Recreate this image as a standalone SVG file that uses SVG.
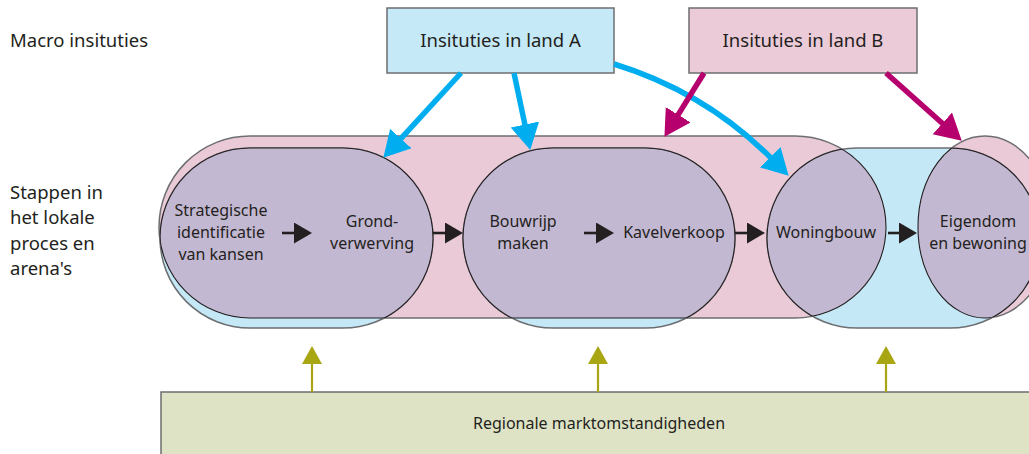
<svg xmlns="http://www.w3.org/2000/svg" width="1029" height="454" viewBox="0 0 1029 454">
<style>
  text { font-family: "Noto Sans", "Open Sans", sans-serif; fill: #231f20; }
  .lbl { font-size: 18.5px; }
  .step { font-size: 16px; text-anchor: middle; }
  .box { stroke: #6d6e71; stroke-width: 1.5; }
  .pink { fill: #ebcad8; }
  .blue { fill: #c5e8f7; }
  .outer { stroke: #6d6e71; stroke-width: 1.5; }
  .purple { fill: #c3b8d2; stroke: #231f20; stroke-width: 1.1; }
  .edge { fill: none; stroke: #231f20; stroke-width: 1.1; }
  .cyan { stroke: #00aeef; stroke-width: 5.5; fill: none; }
  .mag { stroke: #b5006d; stroke-width: 5.5; fill: none; }
  .blk { stroke: #231f20; stroke-width: 2.6; fill: none; }
  .olv { stroke: #a9a614; stroke-width: 2.2; fill: none; }
</style>
<defs>
  <marker id="hCyan" markerUnits="userSpaceOnUse" markerWidth="27" markerHeight="30" refX="1" refY="14.5" orient="auto"><path d="M0,0 L26,14.5 L0,29 z" fill="#00aeef"/></marker>
  <marker id="hMag" markerUnits="userSpaceOnUse" markerWidth="27" markerHeight="30" refX="1" refY="14.5" orient="auto"><path d="M0,0 L26,14.5 L0,29 z" fill="#b5006d"/></marker>
  <marker id="hBlk" markerUnits="userSpaceOnUse" markerWidth="19" markerHeight="21" refX="1" refY="10.5" orient="auto"><path d="M0,0 L18,10.5 L0,21 z" fill="#231f20"/></marker>
  <marker id="hOlv" markerUnits="userSpaceOnUse" markerWidth="19" markerHeight="21" refX="1" refY="10" orient="auto"><path d="M0,0 L18,10 L0,20 z" fill="#a9a614"/></marker>
  <clipPath id="clipPink">
    <rect x="159" y="136" width="727" height="182" rx="91" ry="91"/>
    <ellipse cx="985" cy="227" rx="67" ry="91"/>
  </clipPath>
  <clipPath id="clipBlue">
    <rect x="160" y="148" width="273" height="180" rx="90" ry="90"/>
    <rect x="463" y="148" width="272" height="180" rx="90" ry="90"/>
    <rect x="767" y="148" width="273" height="180" rx="90" ry="90"/>
  </clipPath>
</defs>

<g id="labels">
  <text class="lbl" x="10" y="47">Macro insituties</text>
  <text class="lbl" x="10" y="199">Stappen in</text>
  <text class="lbl" x="10" y="224">het lokale</text>
  <text class="lbl" x="10" y="250">proces en</text>
  <text class="lbl" x="10" y="275">arena's</text>
</g>

<g id="arenas">
  <g id="arena-land-b">
    <rect class="pink outer" x="159" y="136" width="727" height="182" rx="91" ry="91"/>
    <ellipse class="pink outer" cx="985" cy="227" rx="67" ry="91"/>
  </g>
  <g id="arena-land-a">
    <rect class="blue outer" x="160" y="148" width="273" height="180" rx="90" ry="90"/>
    <rect class="blue outer" x="463" y="148" width="272" height="180" rx="90" ry="90"/>
    <rect class="blue outer" x="767" y="148" width="273" height="180" rx="90" ry="90"/>
  </g>
  <g id="overlap" clip-path="url(#clipPink)">
    <rect class="purple" x="160" y="148" width="273" height="180" rx="90" ry="90"/>
    <rect class="purple" x="463" y="148" width="272" height="180" rx="90" ry="90"/>
    <rect class="purple" x="767" y="148" width="273" height="180" rx="90" ry="90"/>
  </g>
  <g id="overlap-edges" clip-path="url(#clipBlue)">
    <rect class="edge" x="159" y="136" width="727" height="182" rx="91" ry="91"/>
    <ellipse class="edge" cx="985" cy="227" rx="67" ry="91"/>
  </g>
</g>

<g id="box-a">
  <rect class="box" x="387" y="8" width="227" height="65" fill="#c6e9f8"/>
  <text class="lbl" x="500.5" y="47" text-anchor="middle">Insituties in land A</text>
</g>
<g id="box-b">
  <rect class="box" x="689" y="8" width="228" height="65" fill="#eccbd9"/>
  <text class="lbl" x="803" y="47" text-anchor="middle">Insituties in land B</text>
</g>
<g id="box-regionaal">
  <rect class="box" x="161" y="392" width="880" height="80" fill="#dfe3c6"/>
  <text x="599" y="429" text-anchor="middle" font-size="16">Regionale marktomstandigheden</text>
</g>

<g id="step-strategisch"><text class="step" x="221" y="216">Strategische</text><text class="step" x="221" y="238">identificatie</text><text class="step" x="221" y="260">van kansen</text></g>
<g id="step-grond"><text class="step" x="372" y="227">Grond-</text><text class="step" x="372" y="249">verwerving</text></g>
<g id="step-bouwrijp"><text class="step" x="523" y="227">Bouwrijp</text><text class="step" x="523" y="249">maken</text></g>
<g id="step-kavel"><text class="step" x="674" y="238">Kavelverkoop</text></g>
<g id="step-woningbouw"><text class="step" x="826" y="238">Woningbouw</text></g>
<g id="step-eigendom"><text class="step" x="978" y="227">Eigendom</text><text class="step" x="978" y="249">en bewoning</text></g>

<g id="connectors">
  <path class="cyan" d="M461,73 L400.2,139.3" marker-end="url(#hCyan)"/>
  <path class="cyan" d="M514,73 L525.1,125.5" marker-end="url(#hCyan)"/>
  <path class="cyan" d="M614,64 Q705,92 771,158" marker-end="url(#hCyan)"/>
  <path class="mag" d="M704,73 L677.6,115.6" marker-end="url(#hMag)"/>
  <path class="mag" d="M886,73 L943.1,124" marker-end="url(#hMag)"/>
  <path class="blk" d="M282,233 H295" marker-end="url(#hBlk)"/>
  <path class="blk" d="M433,233 H446" marker-end="url(#hBlk)"/>
  <path class="blk" d="M584,233 H597" marker-end="url(#hBlk)"/>
  <path class="blk" d="M735,233 H748" marker-end="url(#hBlk)"/>
  <path class="blk" d="M888,233 H900" marker-end="url(#hBlk)"/>
  <path class="olv" d="M312,392 V363" marker-end="url(#hOlv)"/>
  <path class="olv" d="M598,392 V363" marker-end="url(#hOlv)"/>
  <path class="olv" d="M886,392 V363" marker-end="url(#hOlv)"/>
</g>
</svg>
